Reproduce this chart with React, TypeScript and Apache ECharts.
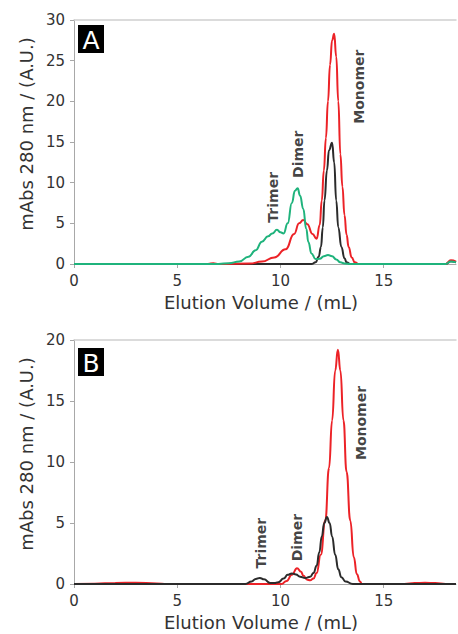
import React, { useEffect, useRef } from "react";
import * as echarts from "echarts";

// ---- Panel A data: [elution volume (mL), mAbs 280 nm] ----
const aBlack: [number, number][] = [
  [0, 0], [11.5, 0], [11.7, 0.2], [11.85, 0.9], [11.96, 2.1], [12.05, 4.5], [12.13, 7.8],
  [12.25, 11.5], [12.35, 14], [12.5, 14.9], [12.6, 12.5], [12.7, 7.8], [12.8, 4.5],
  [12.95, 2.1], [13.1, 0.7], [13.2, 0.2], [13.4, 0], [18.0, 0], [18.25, 0.35], [18.5, 0.2],
];
const aRed: [number, number][] = [
  [6.5, 0], [6.75, 0.08], [7.0, 0], [8.5, 0.05], [9.1, 0.3], [9.7, 0.8], [10.25, 1.8],
  [10.66, 3.7], [10.9, 5.0], [11.1, 5.4], [11.3, 4.9], [11.55, 3.7], [11.75, 3.1],
  [11.9, 4.8], [12.0, 7.8], [12.1, 11.5], [12.2, 15.5], [12.3, 20], [12.4, 24.5],
  [12.5, 27.5], [12.6, 28.3], [12.7, 25.5], [12.8, 20], [12.9, 13.5], [13.0, 9.5],
  [13.1, 6], [13.2, 3.6], [13.3, 2.1], [13.45, 0.8], [13.6, 0.2], [13.8, 0],
  [18.0, 0], [18.25, 0.45], [18.5, 0.3],
];
const aGreen: [number, number][] = [
  [0, 0], [7.0, 0], [7.5, 0.1], [8.0, 0.3], [8.45, 0.9], [8.8, 1.7], [9.1, 2.75],
  [9.4, 3.4], [9.6, 3.75], [9.83, 4.2], [10.0, 3.9], [10.15, 3.75], [10.35, 5.0],
  [10.55, 7.5], [10.7, 9.0], [10.83, 9.3], [10.95, 8.4], [11.1, 6.8], [11.25, 4.3],
  [11.35, 2.7], [11.5, 1.3], [11.7, 0.6], [11.9, 0.65], [12.1, 0.95], [12.3, 1.1],
  [12.5, 0.95], [12.7, 0.55], [12.9, 0.2], [13.1, 0.05], [13.4, 0], [18.0, 0],
  [18.25, 0.3], [18.5, 0.2],
];

// ---- Panel B data ----
const bRed: [number, number][] = [
  [0, 0], [1.0, 0.03], [2.0, 0.09], [3.0, 0.1], [4.0, 0.05], [4.5, 0], [10.05, 0],
  [10.3, 0.25], [10.55, 0.75], [10.8, 1.3], [11.0, 1.0], [11.1, 0.7], [11.3, 0.35],
  [11.44, 0.3], [11.6, 0.45], [11.75, 0.9], [11.95, 2.4], [12.17, 5.2], [12.35, 9.5],
  [12.5, 13.4], [12.65, 17.5], [12.78, 19.2], [12.9, 17.5], [13.05, 13.4],
  [13.2, 9.2], [13.38, 5.2], [13.55, 2.2], [13.7, 0.8], [13.85, 0.2], [13.95, 0],
  [16.0, 0], [16.5, 0.08], [17.0, 0.1], [17.5, 0.08], [18.0, 0], [18.5, 0],
];
const bBlack: [number, number][] = [
  [0, 0], [8.3, 0], [8.6, 0.2], [8.8, 0.42], [9.0, 0.5], [9.2, 0.38], [9.5, 0.08],
  [9.7, 0.08], [9.9, 0.15], [10.15, 0.45], [10.35, 0.75], [10.55, 0.87], [10.75, 0.78],
  [10.95, 0.6], [11.2, 0.5], [11.44, 0.6], [11.6, 0.9], [11.75, 1.5], [11.88, 2.6],
  [12.0, 3.9], [12.12, 5.0], [12.25, 5.5], [12.38, 5.0], [12.5, 3.9], [12.65, 2.4],
  [12.8, 1.2], [12.95, 0.55], [13.15, 0.2], [13.5, 0], [18.5, 0],
];

// ---- Annotations: [x, y, text] in data units ----
const aNotes: [number, number, string][] = [
  [9.66, 8.2, "Trimer"],
  [10.87, 13.5, "Dimer"],
  [13.8, 21.8, "Monomer"],
];
const bNotes: [number, number, string][] = [
  [9.08, 3.35, "Trimer"],
  [10.8, 3.8, "Dimer"],
  [13.88, 13.2, "Monomer"],
];

const xTicks = [0, 5, 10, 15];
const aYTicks = [0, 5, 10, 15, 20, 25, 30];
const bYTicks = [0, 5, 10, 15, 20];
const panelLetters = ["A", "B"];

const RED = "#ec2227";
const GREEN = "#1fb37c";
const BLACK = "#2b2b2b";
const FONT = "DejaVu Sans";

export default function App() {
  const ref = useRef<HTMLDivElement>(null);
  useEffect(() => {
    if (!ref.current) return;
    const chart = echarts.init(ref.current, undefined, { renderer: "svg" });

    const grids = [
      { left: 74, width: 382, top: 20, height: 244 },
      { left: 74, width: 382, top: 340, height: 244 },
    ];
    const xMain = (gi: number) => ({
      type: "value",
      gridIndex: gi,
      min: xTicks[0],
      max: 18.5,
      interval: xTicks[1] - xTicks[0],
      name: "Elution Volume / (mL)",
      nameLocation: "middle",
      nameGap: 29,
      nameTextStyle: { fontFamily: FONT, fontSize: 18, color: "#333", padding: [0, 8, 0, 0] },
      axisLine: { show: true, lineStyle: { color: "#a8a8a8", width: 1 } },
      axisTick: { show: true, length: 4, lineStyle: { color: "#a8a8a8" } },
      axisLabel: {
        fontFamily: FONT, fontSize: 15, color: "#333", margin: 9,
        showMaxLabel: false,
        formatter: (v: number) => (xTicks.includes(v) ? String(v) : ""),
      },
      splitLine: { show: false },
    });
    const xTop = (gi: number) => ({
      type: "value",
      gridIndex: gi,
      position: "top",
      min: 0,
      max: 18.5,
      axisLine: { show: true, lineStyle: { color: "#cfcfcf", width: 1.5 } },
      axisTick: { show: false },
      axisLabel: { show: false },
      splitLine: { show: false },
    });
    const yAxis = (gi: number, ticks: number[]) => ({
      type: "value",
      gridIndex: gi,
      min: ticks[0],
      max: ticks[ticks.length - 1],
      interval: ticks[1] - ticks[0],
      name: "mAbs 280 nm / (A.U.)",
      nameLocation: "middle",
      nameGap: 37,
      nameTextStyle: { fontFamily: FONT, fontSize: 18, color: "#333", padding: [0, 0, 0, 16] },
      axisLine: { show: true, lineStyle: { color: "#a8a8a8", width: 1 } },
      axisTick: { show: true, length: 4, lineStyle: { color: "#a8a8a8" } },
      axisLabel: { fontFamily: FONT, fontSize: 15, color: "#333", margin: 9 },
      splitLine: { show: false },
    });

    const line = (name: string, data: [number, number][], color: string, xi: number, yi: number) => ({
      name,
      type: "line",
      xAxisIndex: xi,
      yAxisIndex: yi,
      data,
      smooth: 0.5,
      smoothMonotone: "x",
      showSymbol: false,
      symbol: "none",
      lineStyle: { color, width: 2 },
      itemStyle: { color },
      z: 2,
    });
    const notes = (data: [number, number, string][], xi: number, yi: number) => ({
      type: "scatter",
      xAxisIndex: xi,
      yAxisIndex: yi,
      symbolSize: 1,
      itemStyle: { color: "rgba(0,0,0,0)" },
      data: data.map((d) => ({ value: [d[0], d[1]], name: d[2] })),
      label: {
        show: true,
        position: "inside",
        rotate: 90,
        formatter: (p: any) => p.name,
        fontFamily: FONT,
        fontSize: 14,
        fontWeight: "bold",
        color: "#111",
      },
      z: 5,
    });

    const letterBox = (top: number, letter: string) => ({
      type: "group",
      left: 78,
      top,
      children: [
        { type: "rect", shape: { x: 0, y: 0, width: 26, height: 28 }, style: { fill: "#000" } },
        {
          type: "text",
          x: 13,
          y: 15,
          style: {
            text: letter,
            fill: "#fff",
            font: `25px ${FONT}`,
            align: "center",
            verticalAlign: "middle",
          },
        },
      ],
    });

    chart.setOption({
      animation: false,
      backgroundColor: "#fff",
      grid: grids,
      xAxis: [xMain(0), xTop(0), xMain(1), xTop(1)],
      yAxis: [yAxis(0, aYTicks), yAxis(1, bYTicks)],
      series: [
        line("A black", aBlack, BLACK, 0, 0),
        line("A red", aRed, RED, 0, 0),
        line("A green", aGreen, GREEN, 0, 0),
        line("B red", bRed, RED, 2, 1),
        line("B black", bBlack, BLACK, 2, 1),
        notes(aNotes, 0, 0),
        notes(bNotes, 2, 1),
      ],
      graphic: [letterBox(25, panelLetters[0]), letterBox(348, panelLetters[1])],
    });
    return () => chart.dispose();
  }, []);
  return (
    <div
      ref={ref}
      style={{ position: "fixed", left: 0, top: 0, width: 458, height: 634, background: "#fff" }}
    />
  );
}
